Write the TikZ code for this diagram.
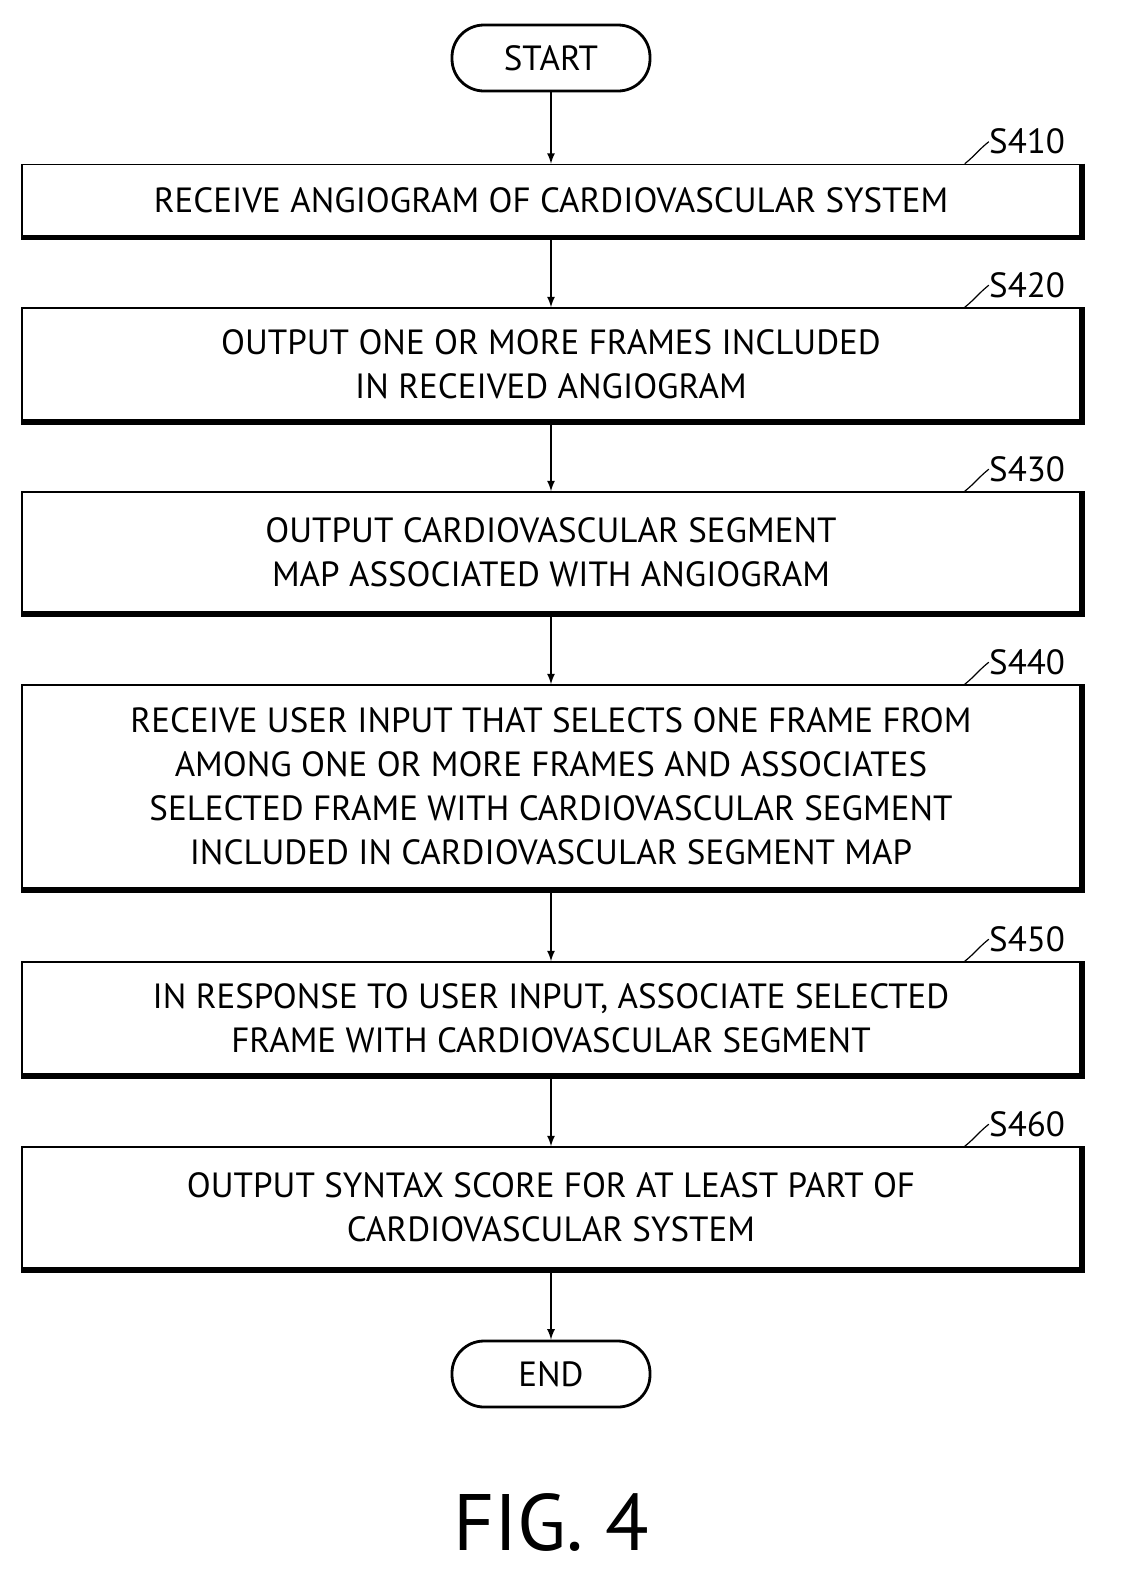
\documentclass[tikz,border=0pt]{standalone}
\usepackage{fontspec}
\setmainfont{PT Sans}
\usetikzlibrary{positioning}
\tikzset{
  stepbox/.style={draw, line width=0.8pt, minimum width=529pt, align=center, font=\fontsize{17.5}{22}\selectfont},
  termbox/.style={draw, line width=1.4pt, rounded corners=16pt, minimum width=99pt, minimum height=33pt, font=\fontsize{17.5}{20}\selectfont},
  flow/.style={-latex, line width=0.8pt},
  steplabel/.style={font=\fontsize{17.5}{20}\selectfont, anchor=west}
}
\newcommand{\heavyedge}[1]{\draw[line width=2pt] ([xshift=1pt]#1.north east) -- ([xshift=1pt,yshift=-1pt]#1.south east) -- ([yshift=-1pt]#1.south west);}
\newcommand{\steptag}[2]{\draw[line width=0.6pt] ([xshift=-58pt]#1.north east) .. controls +(5pt,4pt) and +(-5pt,-4pt) .. ++(12pt,11pt) coordinate (#1tag);
  \node[steplabel, inner sep=0pt] at (#1tag) {#2};}
\begin{document}
\begin{tikzpicture}[x=0.5pt, y=-0.5pt]
  \useasboundingbox (0,0) rectangle (1120,1591);
  \node[termbox] (start) at (551,58) {START};
  \node[stepbox, minimum height=35.5pt] (s410) at (551,200) {RECEIVE ANGIOGRAM OF CARDIOVASCULAR SYSTEM};
  \node[stepbox, minimum height=56pt] (s420) at (551,364) {OUTPUT ONE OR MORE FRAMES INCLUDED\\IN RECEIVED ANGIOGRAM};
  \node[stepbox, minimum height=60pt] (s430) at (551,552) {OUTPUT CARDIOVASCULAR SEGMENT\\MAP ASSOCIATED WITH ANGIOGRAM};
  \node[stepbox, minimum height=101.5pt] (s440) at (551,786.5) {RECEIVE USER INPUT THAT SELECTS ONE FRAME FROM\\AMONG ONE OR MORE FRAMES AND ASSOCIATES\\SELECTED FRAME WITH CARDIOVASCULAR SEGMENT\\INCLUDED IN CARDIOVASCULAR SEGMENT MAP};
  \node[stepbox, minimum height=56pt] (s450) at (551,1018) {IN RESPONSE TO USER INPUT, ASSOCIATE SELECTED\\FRAME WITH CARDIOVASCULAR SEGMENT};
  \node[stepbox, minimum height=60.5pt] (s460) at (551,1207.5) {OUTPUT SYNTAX SCORE FOR AT LEAST PART OF\\CARDIOVASCULAR SYSTEM};
  \node[termbox] (end) at (551,1374) {END};
  \foreach \b in {s410,s420,s430,s440,s450,s460} {\heavyedge{\b}}
  \draw[flow] (start) -- (s410);
  \draw[flow] (s410) -- (s420);
  \draw[flow] (s420) -- (s430);
  \draw[flow] (s430) -- (s440);
  \draw[flow] (s440) -- (s450);
  \draw[flow] (s450) -- (s460);
  \draw[flow] (s460) -- (end);
  \steptag{s410}{S410}
  \steptag{s420}{S420}
  \steptag{s430}{S430}
  \steptag{s440}{S440}
  \steptag{s450}{S450}
  \steptag{s460}{S460}
  \node[font=\fontsize{40}{46}\selectfont] (fig) at (551,1522) {FIG. 4};
\end{tikzpicture}
\end{document}
